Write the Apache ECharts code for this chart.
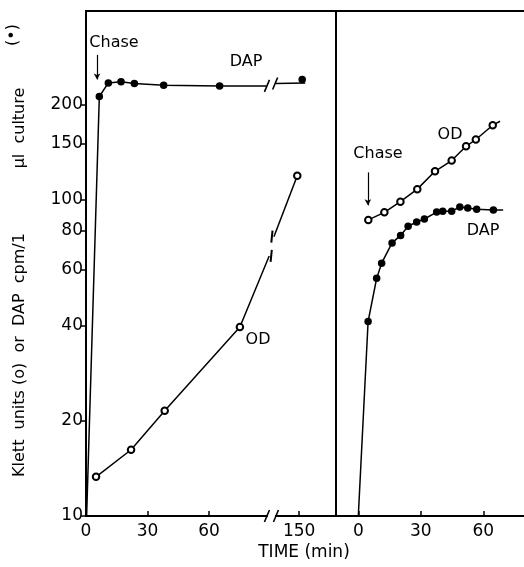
<!DOCTYPE html>
<html>
<head>
<meta charset="utf-8">
<script src="https://cdn.jsdelivr.net/npm/echarts@6/dist/echarts.min.js"></script>
<style>
  html, body { margin: 0; padding: 0; background: #fff; }
  #chart { width: 524px; height: 567px; }
</style>
</head>
<body>
<div id="chart"></div>
<script>
// values: [time (min), Klett units or cpm]
// left panel, before and after the chase (time axis broken between ~90 and ~136 min)
const dapLeftPts = [[6.5, 212], [10.9, 234], [17.1, 236], [23.6, 233], [37.9, 230], [65.2, 229], [151.5, 240]];
const odLeftPts = [[4.9, 13.3], [22, 16.2], [38.4, 21.5], [75.1, 39.6], [149.1, 119]];
// right panel
const odRightPts = [[4.8, 86.3], [12.5, 91.2], [20.2, 98.6], [28.3, 108], [36.8, 123], [44.8, 133],
  [51.7, 147.5], [56.4, 155], [64.5, 172]];
const dapRightPts = [[4.7, 41.2], [8.8, 56.4], [11.2, 63], [16.2, 73], [20.3, 77.1], [23.9, 82.4], [28, 85],
  [31.7, 86.9], [37.6, 91.4], [40.5, 91.9], [44.8, 92], [48.7, 94.8], [52.5, 94.2], [56.8, 93.3], [64.8, 92.7]];

// tick labels
const yTicks = [10, 20, 40, 60, 80, 100, 150, 200];
const xTicksLeft = [0, 30, 60, 150];
const xTicksRight = [0, 30, 60];

// broken time axis on the left panel
const BREAK_FROM = 90, SHIFT = 46;
function toX(t) { return t > BREAK_FROM ? t - SHIFT : t; }
function fromX(x) { return x > BREAK_FROM ? x + SHIFT : x; }
function mapPts(pts) { return pts.map(p => [toX(p[0]), p[1]]); }

// line pieces (with the ends where the curves are cut at the break)
const dapLeftLine1 = [[0.3, 10]].concat(dapLeftPts.slice(0, 6), [[88, 229]]);
const dapLeftLine2 = [[138.5, 233], [153, 234]];
const odLeftLine1 = odLeftPts.slice(0, 4).concat([[89.4, 66.4]]);
const odLeftLine2 = [[137.7, 76.4], odLeftPts[4]];
const odRightLine = odRightPts.concat([[68, 177]]);
const dapRightLine = [[0, 10]].concat(dapRightPts, [[69.5, 92.7]]);

// break marks: pairs of points [t1, v1, t2, v2]
const breakMarks = [[88.3, 10, 138.7, 10], [88.3, 229, 138.3, 233], [89.4, 66.4, 137.7, 76.4]];

const FONT = 'DejaVu Sans';
const chart = echarts.init(document.getElementById('chart'));

function lineSeries(data, xi) {
  return {
    type: 'line', xAxisIndex: xi, yAxisIndex: xi,
    data: xi === 0 ? mapPts(data) : data,
    showSymbol: false, symbol: 'none', silent: true,
    lineStyle: { color: '#000', width: 1.5 }
  };
}
function dotSeries(data, xi, open) {
  return {
    type: 'scatter', xAxisIndex: xi, yAxisIndex: xi,
    data: xi === 0 ? mapPts(data) : data,
    symbol: open ? 'emptyCircle' : 'circle',
    symbolSize: open ? 6.5 : 7.5,
    silent: true, z: 4,
    itemStyle: open ? { color: '#000', borderColor: '#000', borderWidth: 1.4, opacity: 1 }
      : { color: '#000', opacity: 1 }
  };
}
function arrow(t, v1, v2, xi) {
  return {
    silent: true, symbol: ['none', 'arrow'], symbolSize: [5, 6],
    label: { show: false },
    lineStyle: { color: '#000', width: 1.2, type: 'solid' },
    data: [[{ coord: [xi === 0 ? toX(t) : t, v1] }, { coord: [xi === 0 ? toX(t) : t, v2] }]]
  };
}

function text(str, x, y, size, rot) {
  return {
    type: 'text', x: x, y: y, rotation: rot || 0, silent: true,
    style: {
      text: str, fill: '#000', fontSize: size, fontFamily: FONT,
      align: 'center', verticalAlign: 'middle', textAlign: 'center', textVerticalAlign: 'middle'
    }
  };
}

const axisLine = { show: true, onZero: false, lineStyle: { color: '#000', width: 2 } };
const labelStyle = { color: '#000', fontSize: 17, fontFamily: FONT };

const option = {
  animation: false,
  backgroundColor: '#fff',
  grid: [
    { left: 86, top: 11, width: 250, height: 505, show: true, borderColor: '#000', borderWidth: 2 },
    { left: 336, top: 11, width: 188, height: 505 }
  ],
  xAxis: [
    {
      gridIndex: 0, type: 'value', min: 0, max: 122,
      axisLine: axisLine, splitLine: { show: false },
      axisTick: { inside: true, length: 5, customValues: xTicksLeft.map(toX), lineStyle: { color: '#000', width: 1.5 } },
      axisLabel: Object.assign({ customValues: xTicksLeft.map(toX), margin: 7,
        formatter: v => String(Math.round(fromX(v))) }, labelStyle)
    },
    {
      gridIndex: 1, type: 'value', min: -10.7, max: 79.5,
      axisLine: axisLine, splitLine: { show: false },
      axisTick: { inside: true, length: 5, customValues: xTicksRight, lineStyle: { color: '#000', width: 1.5 } },
      axisLabel: Object.assign({ customValues: xTicksRight, margin: 7 }, labelStyle)
    },
    {
      gridIndex: 1, type: 'value', min: -10.7, max: 79.5, position: 'top',
      axisLine: axisLine, splitLine: { show: false },
      axisTick: { show: false }, axisLabel: { show: false }
    }
  ],
  yAxis: [
    {
      gridIndex: 0, type: 'log', logBase: 10, min: 10, max: 395,
      axisLine: axisLine, splitLine: { show: false },
      axisTick: { length: 5, customValues: yTicks, lineStyle: { color: '#000', width: 1.5 } },
      axisLabel: Object.assign({ customValues: yTicks, margin: 3, formatter: v => String(Math.round(v)) }, labelStyle)
    },
    {
      gridIndex: 1, type: 'log', logBase: 10, min: 10, max: 395,
      axisLine: axisLine, splitLine: { show: false },
      axisTick: { show: false }, axisLabel: { show: false }
    }
  ],
  series: [
    Object.assign(lineSeries(dapLeftLine1, 0), { markLine: arrow(5.4, 287, 240, 0) }),
    lineSeries(dapLeftLine2, 0),
    lineSeries(odLeftLine1, 0),
    lineSeries(odLeftLine2, 0),
    dotSeries(dapLeftPts, 0, false),
    dotSeries(odLeftPts, 0, true),
    Object.assign(lineSeries(odRightLine, 1), { markLine: arrow(4.6, 122, 96, 1) }),
    lineSeries(dapRightLine, 1),
    dotSeries(odRightPts, 1, true),
    dotSeries(dapRightPts, 1, false),
    {
      type: 'custom', xAxisIndex: 0, yAxisIndex: 0, silent: true, z: 5,
      data: breakMarks.map(b => [toX(b[0]), b[1], toX(b[2]), b[3]]),
      renderItem: function (params, api) {
        const a = api.coord([api.value(0), api.value(1)]);
        const b = api.coord([api.value(2), api.value(3)]);
        // the OD line is steep, so its marks stand nearly upright and sit beside the line
        const steep = params.dataIndex === 2;
        const dx = steep ? 0.6 : 2.5, off = steep ? 2 : 0;
        const slash = (p, s) => ({
          type: 'line',
          shape: { x1: p[0] + s * off - dx, y1: p[1] + 6, x2: p[0] + s * off + dx, y2: p[1] - 6 },
          style: { stroke: '#000', lineWidth: steep ? 2 : 1.6 }
        });
        return {
          type: 'group',
          children: [
            { type: 'line', shape: { x1: a[0] + 1, y1: a[1], x2: b[0] - 1, y2: b[1] },
              style: { stroke: '#fff', lineWidth: 4 } },
            slash(a, 1), slash(b, -1)
          ]
        };
      }
    }
  ],
  graphic: [
    text('(•)', 13, 35, 16, Math.PI / 2),
    text('μl  culture', 20, 128, 16, Math.PI / 2),
    text('Klett  units (o)  or  DAP  cpm/1', 20, 355, 16, Math.PI / 2),
    text('Chase', 114, 43, 16),
    text('DAP', 246, 62, 16),
    text('OD', 258, 340, 16),
    text('OD', 450, 135, 16),
    text('Chase', 378, 154, 16),
    text('DAP', 483, 231, 16),
    text('TIME (min)', 304, 553, 17)
  ]
};

chart.setOption(option);
</script>
</body>
</html>
